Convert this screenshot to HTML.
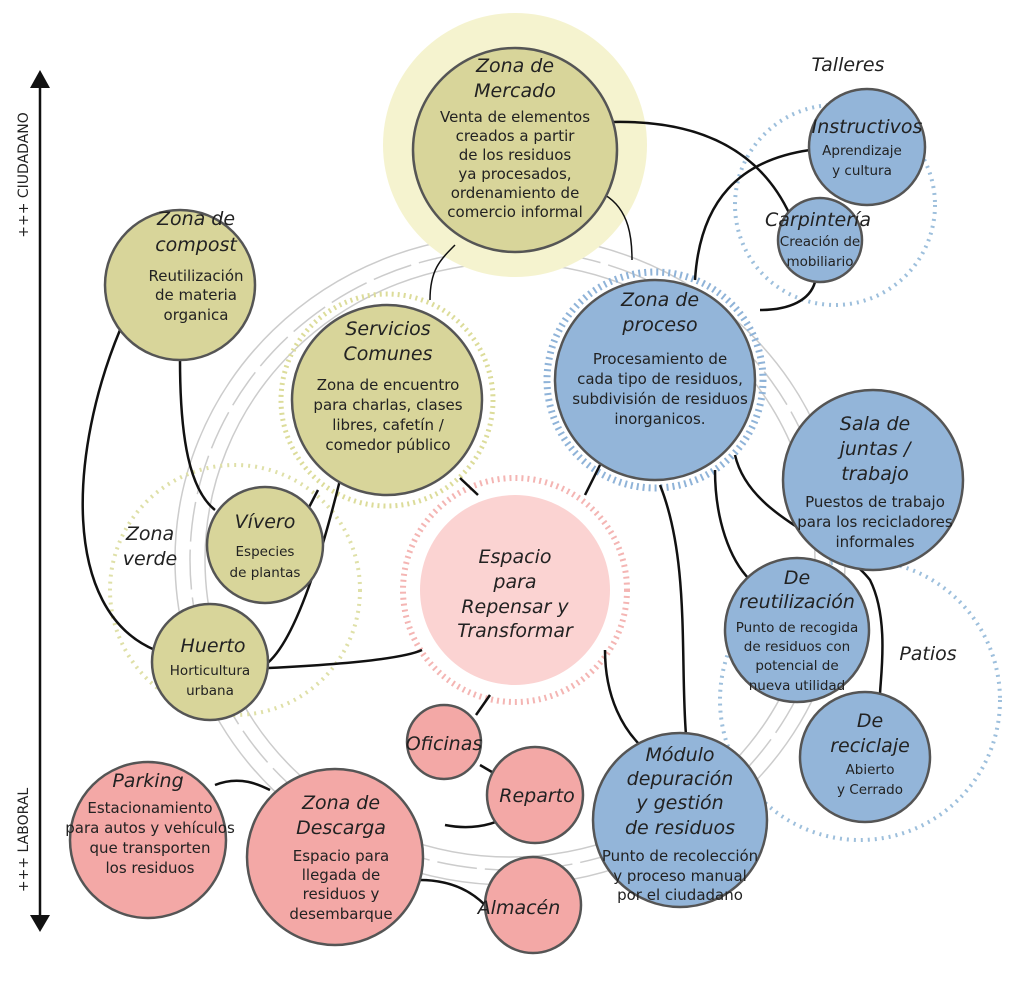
<!DOCTYPE html>
<html><head><meta charset="utf-8"><style>
html,body{margin:0;padding:0;background:#fff}
svg{display:block}
text{font-family:"DejaVu Sans","Liberation Sans",sans-serif;fill:#222;text-anchor:middle}
.t{font-style:italic;font-size:19px}
.b{font-size:15px}
.s{font-size:13.5px}
.y{fill:#d8d59a;stroke:#555;stroke-width:2.5}
.bl{fill:#93b5d9;stroke:#555;stroke-width:2.5}
.p{fill:#f3a8a6;stroke:#555;stroke-width:2.5}
.c{fill:none;stroke:#111;stroke-width:2.5}
.g{fill:none;stroke:#ccc;stroke-width:1.5}
</style></head><body>
<svg width="1017" height="990" viewBox="0 0 1017 990" xmlns="http://www.w3.org/2000/svg">
<ellipse class="g" cx="510" cy="560" rx="335" ry="325"/>
<ellipse class="g" cx="510" cy="560" rx="320" ry="310" stroke-dasharray="40 8"/>
<ellipse class="g" cx="510" cy="560" rx="305" ry="297"/>
<circle cx="515" cy="145" r="132" fill="#f5f3cf"/>
<circle cx="835" cy="205" r="100" fill="none" stroke="#9dbfdc" stroke-width="4" stroke-dasharray="2 5"/>
<circle cx="860" cy="700" r="140" fill="none" stroke="#9dbfdc" stroke-width="4" stroke-dasharray="2 5"/>
<circle cx="235" cy="590" r="125" fill="none" stroke="#dfe0a8" stroke-width="4" stroke-dasharray="2 5"/>
<circle cx="387" cy="400" r="106" fill="none" stroke="#dcdc9a" stroke-width="5" stroke-dasharray="2 4"/>
<circle cx="655" cy="380" r="108" fill="none" stroke="#8fb3d8" stroke-width="7" stroke-dasharray="2 4"/>
<circle cx="515" cy="590" r="112" fill="none" stroke="#f4b5b3" stroke-width="6" stroke-dasharray="2 4"/>
<path class="c" d="M612 122 C700 120 760 150 790 215"/>
<path class="c" d="M810 150 C740 160 700 200 695 280"/>
<path class="c" d="M760 310 C790 310 810 300 815 282"/>
<path class="c" d="M605 195 C630 210 632 240 632 260" style="stroke-width:1.5"/>
<path class="c" d="M430 300 C430 270 440 260 455 245" style="stroke-width:1.5"/>
<path class="c" d="M120 330 C70 450 60 610 155 650"/>
<path class="c" d="M180 360 C180 440 190 490 215 510"/>
<path class="c" d="M340 480 C330 520 300 640 265 665 M268 668 C330 665 400 660 422 650"/>
<path class="c" d="M318 490 L305 515"/>
<path class="c" d="M460 478 L478 495"/>
<path class="c" d="M600 465 L585 495"/>
<path class="c" d="M660 485 C690 560 680 660 686 735"/>
<path class="c" d="M605 650 C605 700 625 730 640 745"/>
<path class="c" d="M715 470 C715 520 730 560 750 580"/>
<path class="c" d="M735 455 C750 520 840 540 870 580 C890 620 880 680 880 695"/>
<path class="c" d="M490 695 L476 715"/>
<path class="c" d="M480 765 L497 775"/>
<path class="c" d="M445 825 C470 830 490 825 500 820"/>
<path class="c" d="M420 880 C450 880 470 890 485 905"/>
<path class="c" d="M215 785 C240 775 260 785 270 790"/>
<circle class="y" cx="515" cy="150" r="102"/>
<circle class="y" cx="180" cy="285" r="75"/>
<circle class="y" cx="387" cy="400" r="95"/>
<circle class="y" cx="265" cy="545" r="58"/>
<circle class="y" cx="210" cy="662" r="58"/>
<circle class="bl" cx="867" cy="147" r="58"/>
<circle class="bl" cx="820" cy="240" r="42"/>
<circle class="bl" cx="655" cy="380" r="100"/>
<circle class="bl" cx="873" cy="480" r="90"/>
<circle class="bl" cx="797" cy="630" r="72"/>
<circle class="bl" cx="865" cy="757" r="65"/>
<circle class="bl" cx="680" cy="820" r="87"/>
<circle cx="515" cy="590" r="95" fill="#fbd3d2"/>
<circle class="p" cx="444" cy="742" r="37"/>
<circle class="p" cx="535" cy="795" r="48"/>
<circle class="p" cx="533" cy="905" r="48"/>
<circle class="p" cx="335" cy="857" r="88"/>
<circle class="p" cx="148" cy="840" r="78"/>
<line x1="40" y1="85" x2="40" y2="918" stroke="#111" stroke-width="2.5"/>
<polygon points="30,88 50,88 40,70" fill="#111"/>
<polygon points="30,915 50,915 40,932" fill="#111"/>
<text class="s" transform="translate(28,175) rotate(-90)" style="font-size:14px">+++ CIUDADANO</text>
<text class="s" transform="translate(28,840) rotate(-90)" style="font-size:14px">+++ LABORAL</text>
<text class="t" x="515" y="72">Zona de</text><text class="t" x="515" y="97">Mercado</text>
<text class="b" x="515" y="122">Venta de elementos</text><text class="b" x="515" y="141">creados a partir</text><text class="b" x="515" y="160">de los residuos</text><text class="b" x="515" y="179">ya procesados,</text><text class="b" x="515" y="198">ordenamiento de</text><text class="b" x="515" y="217">comercio informal</text>
<text class="t" x="848" y="71">Talleres</text>
<text class="t" x="867" y="133">Instructivos</text><text class="s" x="862" y="155">Aprendizaje</text><text class="s" x="862" y="175">y cultura</text>
<text class="t" x="818" y="226">Carpintería</text><text class="s" x="820" y="246">Creación de</text><text class="s" x="820" y="266">mobiliario</text>
<text class="t" x="196" y="225">Zona de</text><text class="t" x="196" y="251">compost</text>
<text class="b" x="196" y="281">Reutilización</text><text class="b" x="196" y="300">de materia</text><text class="b" x="196" y="320">organica</text>
<text class="t" x="388" y="335">Servicios</text><text class="t" x="388" y="360">Comunes</text>
<text class="b" x="388" y="390">Zona de encuentro</text><text class="b" x="388" y="410">para charlas, clases</text><text class="b" x="388" y="430">libres, cafetín /</text><text class="b" x="388" y="450">comedor público</text>
<text class="t" x="660" y="306">Zona de</text><text class="t" x="660" y="331">proceso</text>
<text class="b" x="660" y="364">Procesamiento de</text><text class="b" x="660" y="384">cada tipo de residuos,</text><text class="b" x="660" y="404">subdivisión de residuos</text><text class="b" x="660" y="424">inorganicos.</text>
<text class="t" x="875" y="430">Sala de</text><text class="t" x="875" y="455">juntas /</text><text class="t" x="875" y="480">trabajo</text>
<text class="b" x="875" y="507">Puestos de trabajo</text><text class="b" x="875" y="527">para los recicladores</text><text class="b" x="875" y="547">informales</text>
<text class="t" x="150" y="540">Zona</text><text class="t" x="150" y="565">verde</text>
<text class="t" x="265" y="528">Vívero</text><text class="s" x="265" y="556">Especies</text><text class="s" x="265" y="577">de plantas</text>
<text class="t" x="213" y="652">Huerto</text><text class="s" x="210" y="675">Horticultura</text><text class="s" x="210" y="695">urbana</text>
<text class="t" x="515" y="563">Espacio</text><text class="t" x="515" y="588">para</text><text class="t" x="515" y="613">Repensar y</text><text class="t" x="515" y="637">Transformar</text>
<text class="t" x="797" y="584">De</text><text class="t" x="797" y="608">reutilización</text>
<text class="s" x="797" y="632">Punto de recogida</text><text class="s" x="797" y="651">de residuos con</text><text class="s" x="797" y="670">potencial de</text><text class="s" x="797" y="690">nueva utilidad</text>
<text class="t" x="928" y="660">Patios</text>
<text class="t" x="870" y="727">De</text><text class="t" x="870" y="752">reciclaje</text><text class="s" x="870" y="774">Abierto</text><text class="s" x="870" y="794">y Cerrado</text>
<text class="t" x="444" y="750">Oficinas</text>
<text class="t" x="537" y="802">Reparto</text>
<text class="t" x="519" y="914">Almacén</text>
<text class="t" x="680" y="761">Módulo</text><text class="t" x="680" y="785">depuración</text><text class="t" x="680" y="809">y gestión</text><text class="t" x="680" y="834">de residuos</text>
<text class="b" x="680" y="861">Punto de recolección</text><text class="b" x="680" y="881">y proceso manual</text><text class="b" x="680" y="900">por el ciudadano</text>
<text class="t" x="341" y="809">Zona de</text><text class="t" x="341" y="834">Descarga</text>
<text class="b" x="341" y="861">Espacio para</text><text class="b" x="341" y="880">llegada de</text><text class="b" x="341" y="899">residuos y</text><text class="b" x="341" y="919">desembarque</text>
<text class="t" x="148" y="787">Parking</text>
<text class="b" x="150" y="813">Estacionamiento</text><text class="b" x="150" y="833">para autos y vehículos</text><text class="b" x="150" y="853">que transporten</text><text class="b" x="150" y="873">los residuos</text>
</svg>
</body></html>
